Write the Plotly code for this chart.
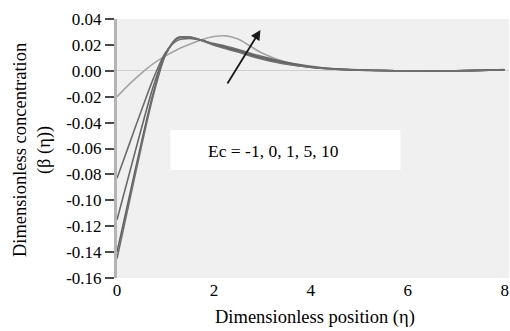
import plotly.graph_objects as go

eta = [0, 0.25, 0.5, 0.75, 1.0, 1.25, 1.5, 1.75, 2.0, 2.25, 2.5, 2.75, 3.0,
       3.5, 4.0, 4.5, 5.0, 5.5, 6.0, 6.5, 7.0, 7.5, 8.0]

beta_a = [-0.083, -0.057, -0.031, -0.006, 0.014, 0.0235, 0.025, 0.0235, 0.021, 0.019, 0.0165,
          0.0135, 0.011, 0.0065, 0.0035, 0.0016, 0.0007, 0.0002, 0.0, -0.0001, 0.0, 0.0004, 0.001]
beta_b = [-0.115, -0.080, -0.045, -0.012, 0.013, 0.025, 0.0255, 0.0235, 0.0205, 0.018, 0.0155,
          0.0125, 0.010, 0.006, 0.003, 0.0014, 0.0006, 0.0002, 0.0, -0.0001, 0.0, 0.0003, 0.0008]
beta_c = [-0.140, -0.098, -0.056, -0.017, 0.0125, 0.0255, 0.026, 0.0235, 0.020, 0.0175, 0.015,
          0.012, 0.0095, 0.0055, 0.0028, 0.0013, 0.0005, 0.0001, 0.0, -0.0001, 0.0, 0.0003, 0.0008]
beta_d = [-0.145, -0.102, -0.059, -0.019, 0.012, 0.0255, 0.026, 0.0235, 0.020, 0.017, 0.0145,
          0.0115, 0.009, 0.005, 0.0026, 0.0012, 0.0005, 0.0001, 0.0, -0.0001, 0.0, 0.0003, 0.0008]
beta_e = [-0.020, -0.0105, -0.002, 0.0055, 0.0115, 0.0165, 0.0205, 0.024, 0.0265, 0.027, 0.0245,
          0.019, 0.0135, 0.0065, 0.003, 0.0014, 0.0006, 0.0002, 0.0, 0.0, 0.0, 0.0003, 0.0008]

series = [beta_e, beta_a, beta_b, beta_c, beta_d]
colors = ["#a4a4a4", "#6c6c6c", "#666666", "#5e5e5e", "#707070"]

y_ticks = [0.04, 0.02, 0.0, -0.02, -0.04, -0.06, -0.08, -0.10, -0.12, -0.14, -0.16]
y_ticktext = ["0.04", "0.02", "0.00", "-0.02", "-0.04", "-0.06", "-0.08",
              "-0.10", "-0.12", "-0.14", "-0.16"]
x_ticks = [0, 2, 4, 6, 8]

FONT = "Liberation Serif, Times New Roman, serif"

fig = go.Figure()
for ys, c in zip(series, colors):
    fig.add_trace(go.Scatter(x=eta, y=ys, mode="lines",
                             line=dict(color=c, width=1.6, shape="spline", smoothing=0.8),
                             showlegend=False, hoverinfo="skip"))

fig.update_layout(
    width=510, height=331,
    margin=dict(l=117, r=1, t=19, b=53),
    paper_bgcolor="white", plot_bgcolor="#f0f0f0",
    font=dict(family=FONT, color="black", size=17),
    xaxis=dict(range=[0, 8.09], tickvals=x_ticks, ticks="", showgrid=False,
               zeroline=False, showline=False, tickfont=dict(family=FONT, size=17)),
    yaxis=dict(range=[-0.16, 0.04], tickvals=y_ticks, ticktext=y_ticktext,
               ticks="outside", ticklen=9, tickwidth=1.5, tickcolor="#4a4a4a",
               showgrid=False, showline=True, linecolor="#b4b4b4", linewidth=3,
               zeroline=True, zerolinecolor="#cfcfcf", zerolinewidth=1.2,
               tickfont=dict(family=FONT, size=17)),
    shapes=[dict(type="rect", xref="x", yref="y", x0=1.10, x1=5.85, y0=-0.0766, y1=-0.0457,
                 fillcolor="white", line=dict(width=0), layer="above")],
    annotations=[
        dict(x=3.24, y=-0.0617, xref="x", yref="y", text="Ec = -1, 0, 1, 5, 10",
             showarrow=False, font=dict(family=FONT, size=17.5, color="black"),
             xanchor="center", yanchor="middle"),
        dict(x=2.96, y=0.0315, ax=2.26, ay=-0.011, xref="x", yref="y", axref="x", ayref="y",
             text="", showarrow=True, arrowhead=2, arrowsize=1.1, arrowwidth=1.8,
             arrowcolor="#1a1a1a"),
        dict(x=0.505, y=-0.154, xref="paper", yref="paper",
             text="Dimensionless position (η)", showarrow=False,
             font=dict(family=FONT, size=18.5, color="black"),
             xanchor="center", yanchor="middle"),
        dict(x=(32 - 117) / 392, y=0.494, xref="paper", yref="paper",
             text="Dimensionless concentration<br>(β (η))", showarrow=False, textangle=-90,
             font=dict(family=FONT, size=18.5, color="black"),
             xanchor="center", yanchor="middle"),
    ],
)

fig.write_html("out.html")
